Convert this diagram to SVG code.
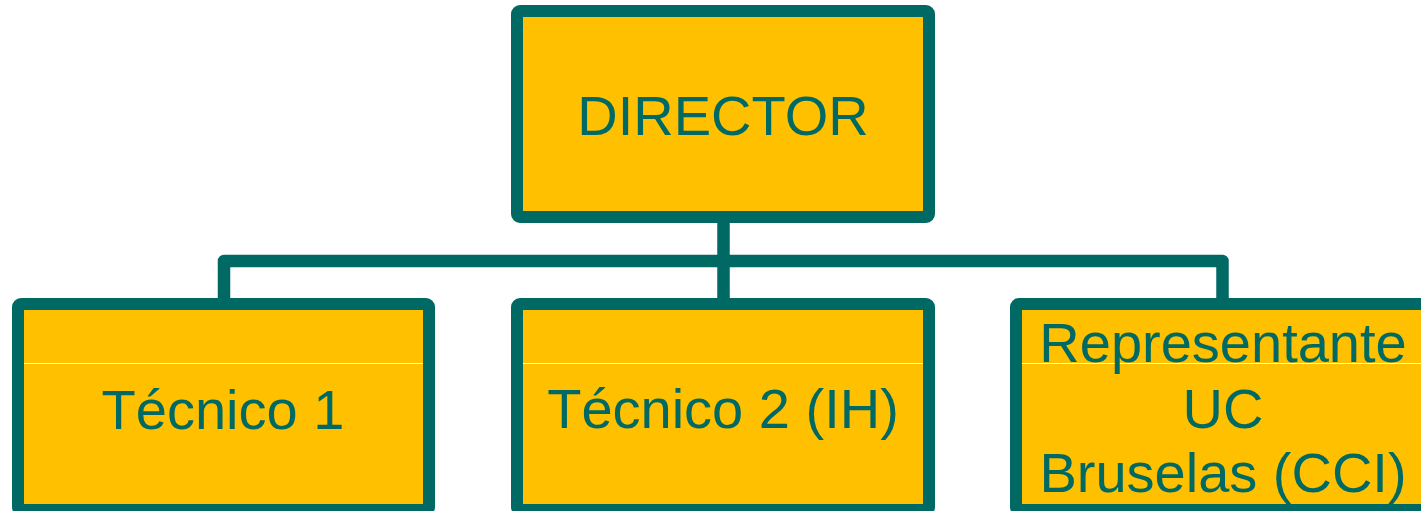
<svg xmlns="http://www.w3.org/2000/svg" width="1421" height="511" viewBox="0 0 1421 511">
<style>
.box{fill:#FFC000;stroke:#006963;stroke-width:12;stroke-linejoin:round}
.sep{stroke:#FFFFFF;stroke-width:1.2}
.lbl{font-family:"Liberation Sans",Arial,sans-serif;font-size:56px;fill:#006963;text-anchor:middle}
.conn{fill:none;stroke:#006963;stroke-width:12.5;stroke-linejoin:round}
</style>
<g id="connectors">
<path class="conn" d="M723.5 217 V261"/>
<path class="conn" d="M224 304 V261 H1222.5 V304"/>
<path class="conn" d="M723.5 261 V304"/>
</g>
<g id="director">
<rect class="box" x="517" y="11" width="412" height="206" rx="3"/>
<text class="lbl" x="723" y="135">DIRECTOR</text>
</g>
<g id="tecnico1">
<rect class="box" x="18" y="304" width="411" height="206" rx="3"/>
<line class="sep" x1="24" y1="363.5" x2="423" y2="363.5"/>
<text class="lbl" x="223" y="429">Técnico 1</text>
</g>
<g id="tecnico2">
<rect class="box" x="517" y="304" width="412" height="206" rx="3"/>
<line class="sep" x1="523" y1="363.5" x2="923" y2="363.5"/>
<text class="lbl" x="723" y="428">Técnico 2 (IH)</text>
</g>
<g id="representante">
<rect class="box" x="1016" y="304" width="412" height="206" rx="3"/>
<line class="sep" x1="1022" y1="363.5" x2="1422" y2="363.5"/>
<text class="lbl" x="1223" y="362">Representante</text>
<text class="lbl" x="1223" y="428">UC</text>
<text class="lbl" x="1223" y="492">Bruselas (CCI)</text>
</g>
</svg>
